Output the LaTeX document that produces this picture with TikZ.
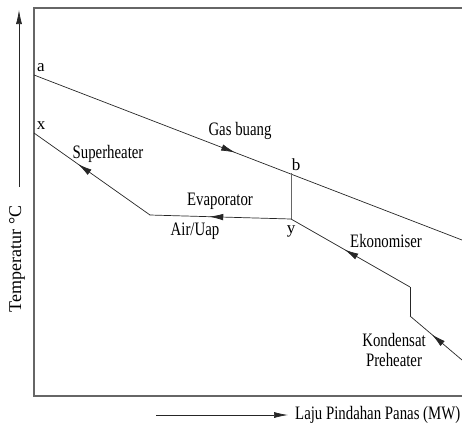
\documentclass[tikz,border=0pt]{standalone}
\usepackage{fontspec}
\setmainfont{Liberation Serif}
\newfontfamily\condserif[FakeStretch=0.78]{Liberation Serif}
\usetikzlibrary{arrows.meta,decorations.markings}

\begin{document}
\begin{tikzpicture}[x=1pt, y=-1pt, >={Latex[length=14pt,width=6pt]},
  frame/.style={line width=1.2pt, draw=black!60},
  curve/.style={line width=0.7pt, draw=black!85},
  midarrow/.style={postaction={decorate}, decoration={markings,
    mark=at position #1 with {\arrow{Latex[length=14pt,width=6.5pt]}}}},
  lbl/.style={font=\fontsize{19}{20}\selectfont\condserif, inner sep=0pt},
  pt/.style={font=\fontsize{17}{19}\selectfont, inner sep=0pt}
]
\useasboundingbox (0,0) rectangle (462,426);
% frame
\coordinate (tl) at (34,8);
\coordinate (tr) at (462,8);
\coordinate (bl) at (34,396);
\coordinate (br) at (462,396);
\draw[frame] (tr) -- (tl) -- (bl) -- (br);
% points
\coordinate (a) at (34,75);
\coordinate (b) at (291,173);
\coordinate (g) at (462,240);
\coordinate (x) at (34,133);
\coordinate (c) at (150,215);
\coordinate (y) at (291,219);
\coordinate (k1) at (410,287);
\coordinate (k2) at (410,316);
\coordinate (k3) at (462,360);
% gas line
\draw[curve, midarrow=0.47] (a) -- (g);
\draw[curve, draw=black!60] (b) -- (y);
% water / steam line
\draw[curve, midarrow=0.58] (k3) -- (k2);
\draw[curve] (k2) -- (k1);
\draw[curve, midarrow=0.55] (k1) -- (y);
\draw[curve, midarrow=0.58] (y) -- (c);
\draw[curve, midarrow=0.62] (c) -- (x);
% point labels
\node[pt] (la) at (41,68) {a};
\node[pt] (lx) at (41,126) {x};
\node[pt] (lb) at (296,165) {b};
\node[pt] (ly) at (291,231) {y};
% section labels
\node[lbl] (gas) at (240,131) {Gas buang};
\node[lbl] (sup) at (108,154) {Superheater};
\node[lbl] (eva) at (220,201) {Evaporator};
\node[lbl] (air) at (195,231) {Air/Uap};
\node[lbl] (eko) at (386,241) {Ekonomiser};
\node[lbl, align=center] (kon) at (394,350) {Kondensat\\[0pt]Preheater};
% axes
\coordinate (t0) at (19,187);
\coordinate (t1) at (19,10);
\draw[curve, ->] (t0) -- (t1);
\node[pt, font=\fontsize{18}{20}\selectfont, rotate=90] (temp) at (17,259) {Temperatur °C};
\coordinate (q0) at (156,415);
\coordinate (q1) at (288,415);
\draw[curve, ->] (q0) -- (q1);
\node[lbl, anchor=west] (laju) at (295,415) {Laju Pindahan Panas (MW)};
\end{tikzpicture}
\end{document}
